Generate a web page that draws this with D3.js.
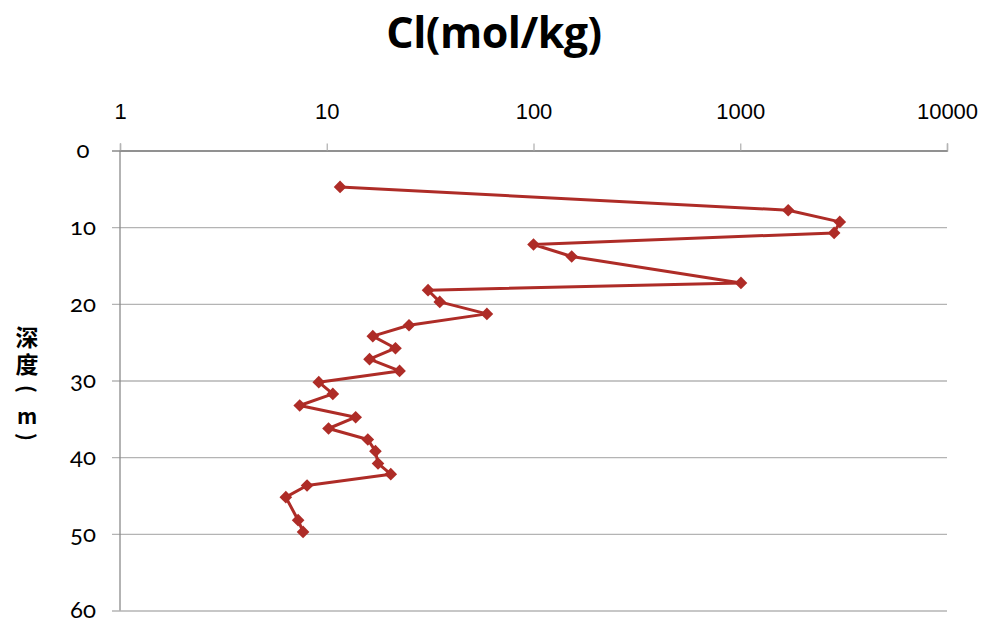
<!DOCTYPE html>
<html>
<head>
<meta charset="utf-8">
<script src="https://cdn.jsdelivr.net/npm/d3@7"></script>
<style>
  body { margin: 0; background: #fff; }
  svg { display: block; }
</style>
</head>
<body>
<div id="chart"></div>
<script>
// chloride concentration (mol/kg) against depth (m)
const clValues = [11.6, 1706, 3030, 2845, 100, 153, 1008, 30.9, 35.2, 59.5,
  25.0, 16.7, 21.5, 16.1, 22.5, 9.15, 10.7, 7.4, 13.8, 10.2,
  15.8, 17.2, 17.7, 20.4, 8.03, 6.34, 7.27, 7.68];
const depths = [4.75, 7.79, 9.31, 10.75, 12.26, 13.83, 17.27, 18.22, 19.75, 21.31,
  22.79, 24.22, 25.79, 27.22, 28.75, 30.22, 31.75, 33.26, 34.79, 36.26,
  37.69, 39.22, 40.82, 42.22, 43.69, 45.22, 48.22, 49.75];
const xTicks = [1, 10, 100, 1000, 10000];
const yTicks = [0, 10, 20, 30, 40, 50, 60];
const yTitleHan = '深度';
const yTitleRest = ['(', 'm', ')'];

const W = 987;
const H = 625;
const margin = { top: 150.5, left: 120, right: 40, bottom: 14.5 };
const innerW = W - margin.left - margin.right;
const innerH = H - margin.top - margin.bottom;
const red = '#AE2C27';

const svg = d3.select('#chart').append('svg').attr('width', W).attr('height', H);

const x = d3.scaleLog().domain([1, 10000]).range([margin.left, margin.left + innerW]);
const y = d3.scaleLinear().domain([0, 60]).range([margin.top, margin.top + innerH]);

// title
svg.append('text')
  .attr('x', 494)
  .attr('y', 48)
  .attr('text-anchor', 'middle')
  .style('font-family', '"Open Sans", sans-serif')
  .style('font-weight', 'bold')
  .style('font-size', '43px')
  .style('letter-spacing', '-0.5px')
  .attr('fill', '#000')
  .text('Cl(mol/kg)');

// horizontal gridlines + left labels
const yAxis = svg.append('g')
  .attr('transform', `translate(${margin.left - 8},0)`)
  .call(d3.axisLeft(y).tickValues(yTicks).tickSize(-(innerW + 8)).tickPadding(29));
yAxis.select('.domain').remove();
yAxis.selectAll('.tick line')
  .attr('stroke', d => (d === 0 ? '#8a8a8a' : '#b4b4b4'))
  .attr('stroke-width', 1.3);
yAxis.selectAll('.tick text')
  .attr('text-anchor', 'middle')
  .attr('dy', '0.3em')
  .style('font-family', 'Lato, "Noto Sans", sans-serif')
  .style('font-variant-numeric', 'oldstyle-nums')
  .style('font-size', '24px')
  .attr('fill', '#000');

// top log axis
const xAxis = svg.append('g')
  .attr('transform', `translate(0,${margin.top})`)
  .call(d3.axisTop(x).tickValues(xTicks).tickFormat(d3.format('d')).tickSize(7).tickPadding(25));
xAxis.select('.domain').attr('stroke', '#8a8a8a').attr('stroke-width', 1.3);
xAxis.selectAll('.tick line').attr('stroke', '#b4b4b4').attr('stroke-width', 1.3);
xAxis.selectAll('.tick text')
  .style('font-family', '"Liberation Sans", Arial, sans-serif')
  .style('font-size', '22px')
  .attr('fill', '#000');

// vertical axis line
svg.append('line')
  .attr('x1', margin.left).attr('x2', margin.left)
  .attr('y1', y(0)).attr('y2', y(60))
  .attr('stroke', '#8a8a8a')
  .attr('stroke-width', 1.3);

// y axis title, stacked vertically; brackets turned like in vertical writing
const yTitle = svg.append('g').attr('class', 'y-title')
  .style('font-family', '"Noto Sans CJK SC", sans-serif')
  .style('font-weight', 'bold')
  .attr('fill', '#000');

yTitle.append('text')
  .attr('x', 27)
  .attr('y', 326)
  .style('writing-mode', 'vertical-rl')
  .style('text-orientation', 'upright')
  .style('font-size', '23px')
  .style('letter-spacing', '4px')
  .text(yTitleHan);

const restY = [389, 416, 437];
yTitle.selectAll('.rest')
  .data(yTitleRest)
  .enter()
  .append('text')
  .attr('class', 'rest')
  .attr('transform', (c, i) => `translate(27,${restY[i]})` + (c === 'm' ? '' : ' rotate(90)'))
  .attr('text-anchor', 'middle')
  .attr('dy', '0.36em')
  .style('font-size', '21px')
  .text(c => c);

// data
const points = clValues.map((v, i) => ({ v, d: depths[i] }));

const line = d3.line().x(p => x(p.v)).y(p => y(p.d));

svg.append('path')
  .datum(points)
  .attr('d', line)
  .attr('fill', 'none')
  .attr('stroke', red)
  .attr('stroke-width', 3)
  .attr('stroke-linejoin', 'round');

svg.selectAll('.marker')
  .data(points)
  .enter()
  .append('path')
  .attr('class', 'marker')
  .attr('d', d3.symbol().type(d3.symbolSquare).size(80))
  .attr('transform', p => `translate(${x(p.v)},${y(p.d)}) rotate(45)`)
  .attr('fill', red);
</script>
</body>
</html>
